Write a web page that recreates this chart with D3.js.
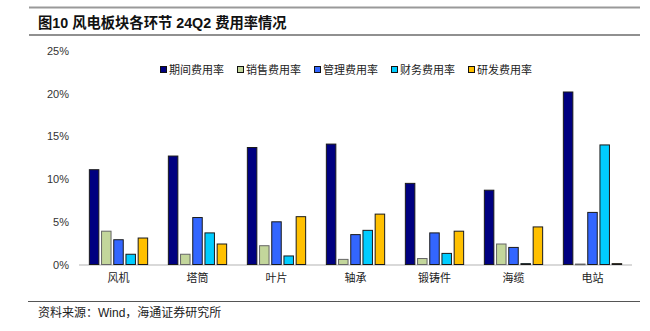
<!DOCTYPE html>
<html>
<head>
<meta charset="utf-8">
<script src="https://cdn.jsdelivr.net/npm/d3@7"></script>
<style>
  html, body { margin: 0; padding: 0; background: #fff; }
  svg { display: block; }
</style>
</head>
<body>
<svg id="chart" width="650" height="331"></svg>
<script>
const titleText = "图10 风电板块各环节 24Q2 费用率情况";
const sourceText = "资料来源：Wind，海通证券研究所";
const categories = ["风机", "塔筒", "叶片", "轴承", "锻铸件", "海缆", "电站"];
const seriesNames = ["期间费用率", "销售费用率", "管理费用率", "财务费用率", "研发费用率"];
const seriesColors = ["#000080", "#C3D69B", "#3366FF", "#00CCFF", "#FFC000"];
const periodRate  = [11.1, 12.7, 13.7, 14.1, 9.5, 8.7, 20.2];
const salesRate   = [3.9, 1.2, 2.2, 0.6, 0.7, 2.4, 0.05];
const adminRate   = [2.9, 5.5, 5.0, 3.5, 3.7, 2.0, 6.1];
const financeRate = [1.2, 3.7, 1.0, 4.0, 1.3, 0.1, 14.0];
const rdRate      = [3.1, 2.4, 5.6, 5.9, 3.9, 4.4, 0.1];
const yTicks = [0, 5, 10, 15, 20, 25];

const seriesValues = [periodRate, salesRate, adminRate, financeRate, rdRate];

const svg = d3.select("#chart");
const cjk = "'Noto Sans CJK SC', 'Noto Sans', sans-serif";
const latin = "'Liberation Sans', Arial, sans-serif";
const mixed = "'Liberation Sans', Arial, 'Noto Sans CJK SC', sans-serif";

// top gray rule
svg.append("line").attr("x1", 29).attr("x2", 640).attr("y1", 7.5).attr("y2", 7.5)
  .attr("stroke", "#999").attr("stroke-width", 2);
// title
svg.append("text").attr("x", 38).attr("y", 27.5)
  .attr("font-family", mixed).attr("font-size", 14.3).attr("font-weight", "bold")
  .attr("fill", "#111").text(titleText);
// title rule
svg.append("line").attr("x1", 29).attr("x2", 640).attr("y1", 35).attr("y2", 35)
  .attr("stroke", "#222").attr("stroke-width", 1.2);

// scales
const x0 = d3.scaleBand().domain(categories).range([79, 632]);
const groupW = 59.3;
const x1 = d3.scaleBand().domain(seriesNames)
  .range([x0.bandwidth() / 2 - groupW / 2, x0.bandwidth() / 2 + groupW / 2])
  .paddingInner(0.14);
const y = d3.scaleLinear().domain([0, 25]).range([264.5, 51]);

// y axis labels
const yAxis = d3.axisLeft(y).tickValues(yTicks).tickFormat(d => d + "%").tickSize(0).tickPadding(0);
const yg = svg.append("g").attr("transform", "translate(69,0)").call(yAxis);
yg.select(".domain").remove();
yg.selectAll("text").attr("font-family", latin).attr("font-size", 11).attr("fill", "#333");

// baseline
svg.append("line").attr("x1", x0.range()[0]).attr("x2", x0.range()[1])
  .attr("y1", y(0) + 0.5).attr("y2", y(0) + 0.5)
  .attr("stroke", "#d9d9d9").attr("stroke-width", 2);

// bars
const groups = svg.append("g").selectAll("g").data(categories).join("g")
  .attr("transform", d => `translate(${x0(d)},0)`);
groups.selectAll("rect")
  .data((c, ci) => seriesNames.map((s, si) => ({ s, si, v: seriesValues[si][ci] })))
  .join("rect")
  .attr("x", d => x1(d.s) + 0.5)
  .attr("width", x1.bandwidth() - 1)
  .attr("y", d => y(d.v))
  .attr("height", d => Math.max(0.6, y(0) - y(d.v)))
  .attr("fill", d => seriesColors[d.si])
  .attr("stroke", d => d.si === 1 ? "#666" : "#1a1a1a")
  .attr("stroke-width", 1);

// x axis labels
const xAxis = d3.axisBottom(x0).tickSize(0).tickPadding(0);
const xg = svg.append("g").attr("transform", `translate(0,${y(0) + 8})`).call(xAxis);
xg.select(".domain").remove();
xg.selectAll("text").attr("font-family", cjk).attr("font-size", 11).attr("fill", "#222")
  .attr("dy", "0.9em");

// legend
const legend = svg.append("g").attr("transform", "translate(160,70)");
const items = legend.selectAll("g").data(seriesNames).join("g")
  .attr("transform", (d, i) => `translate(${i * 77},0)`);
items.append("rect").attr("x", 0.5).attr("y", -3.5).attr("width", 6).attr("height", 6)
  .attr("fill", (d, i) => seriesColors[i]).attr("stroke", "#111").attr("stroke-width", 1);
items.append("text").attr("x", 9).attr("y", 0).attr("dy", "0.36em")
  .attr("font-family", cjk).attr("font-size", 11).attr("fill", "#222").text(d => d);

// footer rule and source
svg.append("line").attr("x1", 28).attr("x2", 640).attr("y1", 301.5).attr("y2", 301.5)
  .attr("stroke", "#555").attr("stroke-width", 1.2);
svg.append("text").attr("x", 38).attr("y", 313).attr("dy", "0.36em")
  .attr("font-family", mixed).attr("font-size", 12).attr("fill", "#222").text(sourceText);
</script>
</body>
</html>
